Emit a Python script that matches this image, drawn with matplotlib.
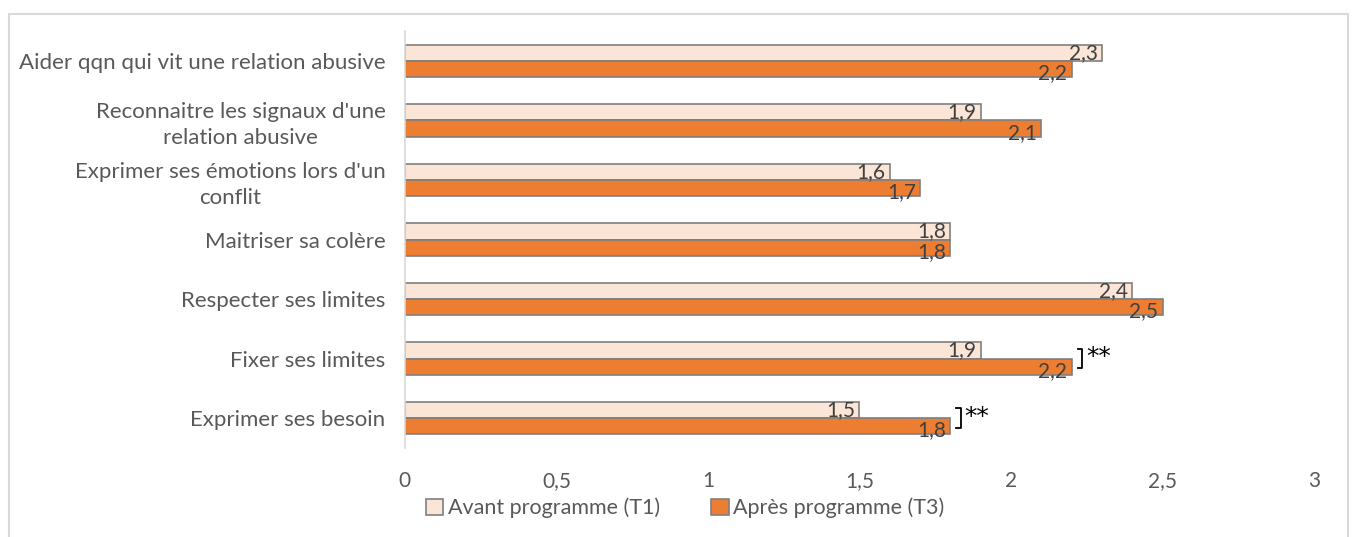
import matplotlib.pyplot as plt
import numpy as np
from matplotlib.patches import Rectangle

# Données
categories = [
    "Aider qqn qui vit une relation abusive",
    "Reconnaitre les signaux d'une\nrelation abusive",
    "Exprimer ses émotions lors d'un\nconflit",
    "Maitriser sa colère",
    "Respecter ses limites",
    "Fixer ses limites",
    "Exprimer ses besoin",
]
avant_t1 = [2.3, 1.9, 1.6, 1.8, 2.4, 1.9, 1.5]
apres_t3 = [2.2, 2.1, 1.7, 1.8, 2.5, 2.2, 1.8]
signif = ["", "", "", "", "", "**", "**"]
xticks = [0, 0.5, 1, 1.5, 2, 2.5, 3]

plt.rcParams['font.family'] = ['Lato', 'DejaVu Sans']
txt_col = '#595959'

fig = plt.figure(figsize=(13.54, 5.37), dpi=100)
ax = fig.add_axes([0.299, 0.166, 0.6715, 0.776])

y = np.arange(len(categories))
h = 0.27
ax.barh(y - h / 2, avant_t1, height=h, color='#FBE5D6', edgecolor='#7f7f7f', linewidth=1.2,
        label='Avant programme (T1)')
ax.barh(y + h / 2, apres_t3, height=h, color='#ED7D31', edgecolor='#7f7f7f', linewidth=1.2,
        label='Après programme (T3)')

# étiquettes de valeurs
for i in range(len(categories)):
    ax.annotate(f"{avant_t1[i]:.1f}".replace('.', ','), (avant_t1[i], y[i] - h / 2),
                xytext=(-3, 0), textcoords='offset points', ha='right', va='center',
                fontsize=15, color='#404040')
    ax.annotate(f"{apres_t3[i]:.1f}".replace('.', ','), (apres_t3[i], y[i] + h / 2),
                xytext=(-3, -3), textcoords='offset points', ha='right', va='center',
                fontsize=15, color='#404040')
    # crochets de significativité
    if signif[i]:
        bx = apres_t3[i] + 0.035
        ax.plot([bx - 0.015, bx, bx, bx - 0.015],
                [y[i] - h / 2 - 0.03, y[i] - h / 2 - 0.03, y[i] + h / 2 + 0.03, y[i] + h / 2 + 0.03],
                color='black', linewidth=1.3, clip_on=False)
        ax.text(bx + 0.012, y[i] - 0.02, signif[i], ha='left', va='center', fontsize=18,
                color='black', family='DejaVu Sans')

ax.set_xlim(0, 3)
ax.set_ylim(len(categories) - 0.5, -0.5)
ax.set_xticks(xticks)
ax.set_xticklabels([f"{t:g}".replace('.', ',') for t in xticks], fontsize=15, color=txt_col)
ax.set_yticks(y)
ax.set_yticklabels(categories, fontsize=16, color=txt_col, ha='right', multialignment='center',
                   linespacing=1.35)
ax.tick_params(axis='y', length=0, pad=14)
ax.tick_params(axis='x', length=0, pad=17)
for s in ['top', 'right', 'bottom']:
    ax.spines[s].set_visible(False)
ax.spines['left'].set_color('#d9d9d9')
ax.spines['left'].set_linewidth(1.2)

ax.legend(loc='center', bbox_to_anchor=(0.506, 1 - 508 / 537), bbox_transform=fig.transFigure,
          ncol=2, frameon=False, fontsize=15.5, handlelength=0.8, handleheight=0.8,
          handletextpad=0.2, columnspacing=2.4, labelcolor=txt_col)

# cadre du graphique
fig.patches.append(Rectangle((9 / 1354, -0.02), (1348 - 9) / 1354, 1.02 - 14 / 537,
                             transform=fig.transFigure, fill=False, edgecolor='#d9d9d9',
                             linewidth=1.5))

fig.savefig('out.png', dpi=100)
